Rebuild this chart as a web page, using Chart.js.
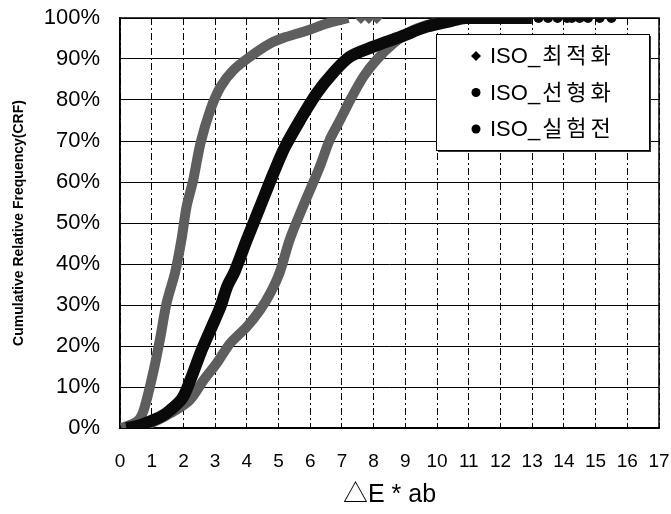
<!DOCTYPE html>
<html>
<head>
<meta charset="utf-8">
<script src="https://cdn.jsdelivr.net/npm/chart.js@4"></script>
<style>
  html, body { margin: 0; padding: 0; background: #fff; }
  #wrap { width: 671px; height: 514px; }
</style>
</head>
<body>
<div id="wrap"><canvas id="crf-chart" width="671" height="514"></canvas></div>
<script>
////
///////////////////// Data /////////////////////
////

const seriesNames = ["ISO_최적화", "ISO_선형화", "ISO_실험전"];

// ISO_최적화 (left, grey)
const optX = [0.05, 0.54, 0.75, 1.06, 1.27, 1.47, 1.74, 1.94, 2.1, 2.31, 2.54, 2.85, 3.17, 3.58, 4.11, 4.74, 5.2, 5.6, 6.0, 6.5, 7.2];
const optY = [0, 1.6, 4.4, 14, 22, 30.5, 38, 46, 54, 60.5, 69.5, 77.6, 83.2, 87.3, 90.6, 93.8, 95.3, 96.2, 97.2, 98.6, 100];
const optTailX = [7.6, 7.85, 8.1];

// ISO_선형화 (middle, black)
const linX = [0.2, 0.6, 0.94, 1.3, 1.59, 1.96, 2.22, 2.54, 2.85, 3.17, 3.38, 3.62, 4.0, 4.42, 4.84, 5.2, 5.68, 6.2, 6.72, 7.26, 7.99, 8.84, 9.68, 10.4, 10.9, 12.99];
const linY = [0, 0.6, 1.6, 2.8, 4.4, 7.2, 11.7, 18.3, 23.9, 29.6, 34.5, 38.2, 45.9, 54, 62.1, 68.5, 75.1, 81.6, 86.6, 90.6, 93, 95.4, 97.9, 99.2, 100, 100];
const linTailX = [13.2, 13.5, 13.8, 14.1, 14.25, 14.5, 14.76, 15.13, 15.5];

// ISO_실험전 (right, grey)
const expX = [0.3, 0.95, 1.59, 2.2, 2.64, 3.05, 3.48, 4.0, 4.42, 4.74, 5.04, 5.35, 5.77, 6.3, 6.61, 6.94, 7.26, 7.68, 8.09, 8.62, 9.15, 9.68, 10.2, 10.8];
const expY = [0, 1.1, 3.6, 6.8, 11.7, 15.8, 20.7, 24.7, 28.8, 32.9, 38, 45.9, 54, 63.7, 70.2, 75.1, 80, 85.7, 89.8, 93.8, 96.7, 98.3, 99.2, 100];

const xTicks = [0, 17, 1];      // min, max, step
const yTicks = [0, 100, 10];

const toPoints = (xs, ys) => xs.map((x, i) => ({ x: x, y: ys[i] }));
const toTail = (xs) => xs.map(x => ({ x: x, y: 100 }));

const grey = '#5e5e5e';
const black = '#0a0a0a';
const fontMain = '"Liberation Sans", Arial, "Noto Sans CJK KR", sans-serif';

////
///////////////////// Plugins /////////////////////
////

// solid frame round the plot area
const frame = {
    id: 'frame',
    beforeDatasetsDraw(chart) {
        const { ctx, chartArea: a } = chart;
        ctx.save();
        ctx.strokeStyle = '#000';
        ctx.lineWidth = 1.5;
        ctx.strokeRect(a.left, a.top, a.right - a.left, a.bottom - a.top);
        ctx.restore();
    }
};

// legend box inside the plot, top right
const boxLegend = {
    id: 'boxLegend',
    afterDatasetsDraw(chart) {
        const ctx = chart.ctx;
        const bx = 436, by = 34, bw = 213, bh = 116;
        ctx.save();
        ctx.fillStyle = '#333';
        ctx.fillRect(bx + 2, by + 2, bw, bh);
        ctx.fillStyle = '#fff';
        ctx.fillRect(bx, by, bw, bh);
        ctx.strokeStyle = '#000';
        ctx.lineWidth = 1;
        ctx.strokeRect(bx + 0.5, by + 0.5, bw, bh);
        ctx.font = '22px ' + fontMain;
        ctx.textBaseline = 'middle';
        ctx.fillStyle = '#000';
        seriesNames.forEach((name, i) => {
            const cy = by + 22 + i * 36.5;
            const mx = bx + 40;
            ctx.beginPath();
            if (i === 0) {
                ctx.moveTo(mx, cy - 5); ctx.lineTo(mx + 5, cy); ctx.lineTo(mx, cy + 5); ctx.lineTo(mx - 5, cy);
                ctx.closePath();
            } else {
                ctx.arc(mx, cy, 4.5, 0, Math.PI * 2);
            }
            ctx.fill();
            // latin part tight, hangul part spaced like the scan
            const cut = name.indexOf('_') + 1;
            const head = name.slice(0, cut);
            ctx.letterSpacing = '0px';
            ctx.fillText(head, bx + 54, cy + 1);
            const w = ctx.measureText(head).width;
            ctx.letterSpacing = '4px';
            ctx.fillText(name.slice(cut), bx + 56 + w, cy + 1);
        });
        ctx.restore();
    }
};

////
///////////////////// Chart /////////////////////
////

const crfCanvas = document.getElementById('crf-chart');

const crfData = {
    datasets: [
        {
            label: seriesNames[1],
            data: toPoints(linX, linY),
            showLine: true,
            borderColor: black,
            borderWidth: 12,
            pointRadius: 0,
            tension: 0.3,
            order: 1
        },
        {
            label: seriesNames[1] + ' tail',
            data: toTail(linTailX),
            showLine: false,
            backgroundColor: black,
            borderWidth: 0,
            pointRadius: 5,
            order: 1
        },
        {
            label: seriesNames[0],
            data: toPoints(optX, optY),
            showLine: true,
            borderColor: grey,
            borderWidth: 10,
            pointRadius: 0,
            tension: 0.3,
            order: 2
        },
        {
            label: seriesNames[0] + ' tail',
            data: toTail(optTailX),
            showLine: false,
            pointStyle: 'rectRot',
            backgroundColor: grey,
            borderWidth: 0,
            pointRadius: 6,
            order: 2
        },
        {
            label: seriesNames[2],
            data: toPoints(expX, expY),
            showLine: true,
            borderColor: grey,
            borderWidth: 10,
            pointRadius: 0,
            tension: 0.3,
            order: 3
        }
    ]
};

const crfOptions = {
    responsive: false,
    animation: false,
    events: [],
    layout: {
        padding: { left: 0, right: 12, top: 18, bottom: 0 }
    },
    scales: {
        x: {
            type: 'linear',
            min: xTicks[0],
            max: xTicks[1],
            afterFit: (s) => { s.height = 86; s.paddingRight = 0; s.paddingLeft = 0; },
            ticks: {
                stepSize: xTicks[2],
                padding: 22,
                color: '#000',
                font: { family: fontMain, size: 19 }
            },
            grid: {
                color: '#000',
                lineWidth: 1,
                drawTicks: false
            },
            border: { display: true, color: '#000', width: 1.5, dash: [7, 3, 2, 3] },
            title: {
                display: true,
                text: '△E * ab',
                color: '#000',
                font: { family: fontMain, size: 25 },
                padding: { top: 0, bottom: 4 }
            }
        },
        y: {
            min: yTicks[0],
            max: yTicks[1],
            afterFit: (s) => { s.width = 120; s.paddingTop = 0; s.paddingBottom = 0; },
            ticks: {
                stepSize: yTicks[2],
                padding: 20,
                color: '#000',
                font: { family: fontMain, size: 22 },
                callback: (v) => v + '%'
            },
            grid: {
                color: '#000',
                lineWidth: 1,
                drawTicks: false
            },
            border: { display: true, color: '#000', width: 1.5 },
            title: {
                display: true,
                text: 'Cumulative Relative Frequency(CRF)',
                color: '#000',
                font: { family: fontMain, size: 14, weight: 'bold' },
                padding: { top: 11, bottom: 0 }
            }
        }
    },
    plugins: {
        legend: { display: false },
        tooltip: { enabled: false }
    }
};

let crfChart = new Chart(crfCanvas, {
    type: 'scatter',
    data: crfData,
    options: crfOptions,
    plugins: [frame, boxLegend]
});
</script>
</body>
</html>
